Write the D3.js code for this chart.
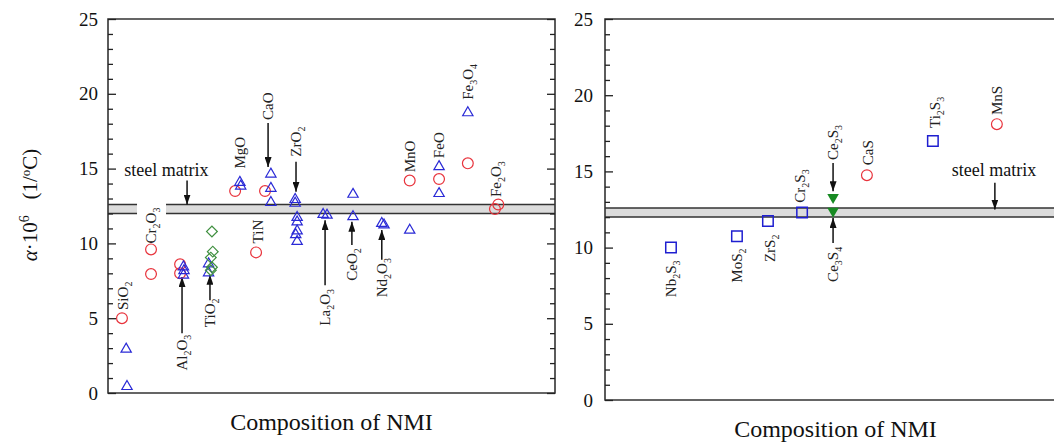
<!DOCTYPE html>
<html>
<head>
<meta charset="utf-8">
<script src="https://cdn.jsdelivr.net/npm/d3@7"></script>
<style>
  body { margin: 0; background: #fff; }
</style>
</head>
<body>
<svg id="chart" width="1054" height="443"></svg>
<script>
// values: [slot along the composition axis, alpha*10^6]
const steelBand = [12.0, 12.6];
const yTicks = [0, 5, 10, 15, 20, 25];

// oxides / nitrides (left panel)
const oxideCircles = [[0.5, 5.0], [1.54, 9.6], [1.54, 7.95], [2.58, 8.6], [2.58, 8.0],
  [4.55, 13.5], [5.62, 13.5], [5.3, 9.4], [10.8, 14.2], [11.85, 14.3], [12.88, 15.35],
  [13.85, 12.3], [13.97, 12.6]];
const oxideTriangles = [[0.65, 3.0], [0.68, 0.5], [2.7, 8.5], [2.72, 8.25], [2.7, 7.95],
  [3.6, 8.7], [3.6, 8.1], [4.72, 14.15], [4.75, 13.9], [5.83, 14.7], [5.83, 13.75],
  [5.83, 12.8], [6.7, 13.0], [6.7, 12.75], [6.77, 11.8], [6.77, 11.5], [6.77, 10.9],
  [6.72, 10.65], [6.77, 10.2], [7.7, 12.0], [7.84, 11.95], [8.77, 13.35], [8.77, 11.85],
  [9.8, 11.4], [9.88, 11.3], [10.8, 10.95], [11.85, 15.2], [11.85, 13.4], [12.88, 18.8]];
const oxideDiamonds = [[3.72, 10.8], [3.75, 9.45], [3.68, 9.05], [3.72, 8.4], [3.68, 8.2]];
// [label, slot, value where the label starts]
const oxideLabels = [["SiO_2", 0.54, 5.55], ["Cr_2O_3", 1.54, 10.0], ["Al_2O_3", 2.65, 1.5],
  ["TiO_2", 3.65, 4.4], ["MgO", 4.72, 15.0], ["CaO", 5.73, 18.25], ["TiN", 5.37, 10.0],
  ["ZrO_2", 6.73, 15.8], ["La_2O_3", 7.77, 4.5], ["CeO_2", 8.73, 7.5], ["Nd_2O_3", 9.8, 6.4],
  ["MnO", 10.8, 14.75], ["FeO", 11.85, 15.7], ["Fe_3O_4", 12.88, 19.6], ["Fe_2O_3", 13.89, 13.1]];
// [slot, from value, to value]
const oxideArrows = [[5.73, 18.05, 15.1], [6.73, 15.45, 13.45], [2.65, 4.0, 7.75],
  [3.65, 6.2, 7.9], [7.77, 7.2, 11.55], [8.73, 9.9, 11.45], [9.8, 8.9, 10.9], [2.83, 14.2, 12.6]];
const oxideMatrix = [2.09, 14.5];

// sulfides (right panel)
const sulfideSquares = [[2.32, 10.0], [4.64, 10.75], [5.73, 11.75], [6.93, 12.3], [11.53, 17.0]];
const sulfideCircles = [[9.21, 14.75], [13.78, 18.1]];
const sulfideFilled = [[8.02, 13.3], [8.02, 12.4]];
const sulfideLabels = [["Nb_2S_3", 2.32, 6.75], ["MoS_2", 4.64, 7.7], ["ZrS_2", 5.8, 9.05],
  ["Cr_2S_3", 6.86, 12.95], ["Ce_2S_3", 8.02, 15.75], ["Ce_3S_4", 8.02, 7.75], ["CaS", 9.25, 15.4],
  ["Ti_2S_3", 11.6, 17.85], ["MnS", 13.78, 18.7]];
const sulfideArrows = [[8.02, 15.55, 13.7], [8.02, 10.3, 11.95], [13.71, 14.25, 12.5]];
const sulfideMatrix = [13.68, 14.7];

const serif = "'Liberation Serif', 'Times New Roman', Times, 'DejaVu Serif', serif";
const svg = d3.select("#chart");

svg.append("defs").append("marker")
    .attr("id", "head")
    .attr("viewBox", "0 0 10 7")
    .attr("refX", 10).attr("refY", 3.5)
    .attr("markerWidth", 10).attr("markerHeight", 7)
    .attr("markerUnits", "userSpaceOnUse")
    .attr("orient", "auto")
    .append("path").attr("d", "M0,0L10,3.5L0,7z").attr("fill", "#111");

// rotated label with "_" marking the next character as a subscript
function addLabel(g, label, px, py) {
    const t = g.append("text")
        .attr("transform", `translate(${px + 5},${py}) rotate(-90)`)
        .attr("font-size", 15)
        .attr("fill", "#222");
    let shifted = false;
    for (let i = 0; i < label.length; i++) {
        if (label[i] === "_") {
            t.append("tspan").attr("font-size", 10).attr("dy", 4).text(label[i + 1]);
            shifted = true;
            i++;
        } else {
            const s = t.append("tspan").text(label[i]);
            if (shifted) { s.attr("dy", -4); shifted = false; }
        }
    }
    return t;
}

function drawPanel(cfg) {
    const g = svg.append("g");
    const x = d3.scaleLinear().domain([0, 16]).range([cfg.x0, cfg.x1]);
    const y = d3.scaleLinear().domain([0, 25]).range([cfg.y0, cfg.y1]);

    // steel matrix band
    g.append("rect")
        .attr("x", cfg.x0).attr("width", cfg.x1 - cfg.x0)
        .attr("y", y(steelBand[1])).attr("height", y(steelBand[0]) - y(steelBand[1]))
        .attr("fill", "#dcdcdc");
    g.selectAll(".bandline").data(steelBand).enter().append("line")
        .attr("x1", cfg.x0).attr("x2", cfg.x1)
        .attr("y1", d => y(d)).attr("y2", d => y(d))
        .attr("stroke", "#333").attr("stroke-width", 1.5);

    // labels with white knock-out over the band
    cfg.labels.forEach(d => {
        if (cfg.gap === d[0]) {
            g.append("rect")
                .attr("x", x(d[1]) - 14).attr("width", 29)
                .attr("y", y(steelBand[1]) - 2).attr("height", y(steelBand[0]) - y(steelBand[1]) + 4)
                .attr("fill", "#fff");
        }
        addLabel(g, d[0], x(d[1]), y(d[2]));
    });

    // arrows
    g.selectAll(".arrow").data(cfg.arrows).enter().append("line")
        .attr("x1", d => x(d[0])).attr("x2", d => x(d[0]))
        .attr("y1", d => y(d[1])).attr("y2", d => y(d[2]))
        .attr("stroke", "#111").attr("stroke-width", 1.5)
        .attr("marker-end", "url(#head)");

    g.append("text")
        .attr("x", x(cfg.matrix[0])).attr("y", y(cfg.matrix[1]))
        .attr("text-anchor", "middle").attr("font-size", 18).attr("fill", "#111")
        .text("steel matrix");

    // markers
    g.selectAll(".circ").data(cfg.circles).enter().append("circle")
        .attr("cx", d => x(d[0])).attr("cy", d => y(d[1])).attr("r", 5.4)
        .attr("fill", "none").attr("stroke", "#e8333c").attr("stroke-width", 1.2);
    g.selectAll(".tri").data(cfg.triangles || []).enter().append("path")
        .attr("d", d3.symbol().type(d3.symbolTriangle).size(46)())
        .attr("transform", d => `translate(${x(d[0])},${y(d[1]) + 1})`)
        .attr("fill", "none").attr("stroke", "#2a2ad6").attr("stroke-width", 1.2);
    g.selectAll(".dia").data(cfg.diamonds || []).enter().append("path")
        .attr("d", d3.symbol().type(d3.symbolSquare).size(58)())
        .attr("transform", d => `translate(${x(d[0])},${y(d[1])}) rotate(45)`)
        .attr("fill", "none").attr("stroke", "#3f8f3f").attr("stroke-width", 1.2);
    g.selectAll(".sq").data(cfg.squares || []).enter().append("path")
        .attr("d", d3.symbol().type(d3.symbolSquare).size(110)())
        .attr("transform", d => `translate(${x(d[0])},${y(d[1])})`)
        .attr("fill", "none").attr("stroke", "#1f1fd0").attr("stroke-width", 1.5);
    g.selectAll(".fill").data(cfg.filled || []).enter().append("path")
        .attr("d", d3.symbol().type(d3.symbolTriangle).size(58)())
        .attr("transform", d => `translate(${x(d[0])},${y(d[1])}) rotate(180)`)
        .attr("fill", "#178a22");

    // frame
    g.append("path")
        .attr("d", `M${cfg.x1},${cfg.y1}H${cfg.x0}V${cfg.y0}H${cfg.x1}` + (cfg.closed ? "Z" : ""))
        .attr("fill", "none").attr("stroke", "#333").attr("stroke-width", 1.6);

    // y axes with inward ticks
    const minor = d3.range(0, 26).filter(v => v % 5 !== 0);
    const left = g.append("g").attr("transform", `translate(${cfg.x0},0)`)
        .call(d3.axisLeft(y).tickValues(yTicks).tickSizeInner(-8).tickSizeOuter(0).tickPadding(cfg.pad));
    left.append("g").call(d3.axisLeft(y).tickValues(minor).tickSizeInner(-5).tickSizeOuter(0).tickFormat(""));
    if (cfg.closed) {
        const right = g.append("g").attr("transform", `translate(${cfg.x1},0)`)
            .call(d3.axisRight(y).tickValues(yTicks).tickSizeInner(-8).tickSizeOuter(0).tickFormat(""));
        right.append("g").call(d3.axisRight(y).tickValues(minor).tickSizeInner(-5).tickSizeOuter(0).tickFormat(""));
    }
    g.selectAll(".domain").remove();
    g.selectAll(".tick line").attr("stroke", "#222").attr("stroke-width", 1.3);
    g.selectAll(".tick text").attr("font-size", 19).attr("fill", "#111");

    g.append("text")
        .attr("x", (cfg.x0 + Math.min(cfg.x1, 1054)) / 2 + cfg.titleShift).attr("y", cfg.titleY)
        .attr("text-anchor", "middle").attr("font-size", 24).attr("fill", "#111")
        .text("Composition of NMI");
}

drawPanel({
    x0: 108, x1: 555, y0: 393, y1: 19, closed: true, pad: 10,
    circles: oxideCircles, triangles: oxideTriangles, diamonds: oxideDiamonds,
    labels: oxideLabels, arrows: oxideArrows, matrix: oxideMatrix, gap: "Cr_2O_3",
    titleY: 430, titleShift: 0
});
drawPanel({
    x0: 605, x1: 1060, y0: 400, y1: 19, closed: false, pad: 12,
    circles: sulfideCircles, squares: sulfideSquares, filled: sulfideFilled,
    labels: sulfideLabels, arrows: sulfideArrows, matrix: sulfideMatrix,
    titleY: 437, titleShift: 6
});

// y axis title
const yt = svg.append("text")
    .attr("transform", "translate(37,205) rotate(-90)")
    .attr("text-anchor", "middle").attr("font-size", 21).attr("fill", "#111");
yt.append("tspan").attr("font-style", "italic").text("α");
yt.append("tspan").text("·10");
yt.append("tspan").attr("font-size", 14).attr("dy", -8).text("6");
yt.append("tspan").attr("dy", 8).text("\u2002 (1/");
yt.append("tspan").attr("font-size", 13).attr("dy", -7).text("o");
yt.append("tspan").attr("dy", 7).text("C)");

// serif face everywhere (axis groups default to sans-serif)
svg.selectAll("g").attr("font-family", null);
svg.selectAll("text").attr("font-family", serif).style("font-family", serif);
</script>
</body>
</html>
